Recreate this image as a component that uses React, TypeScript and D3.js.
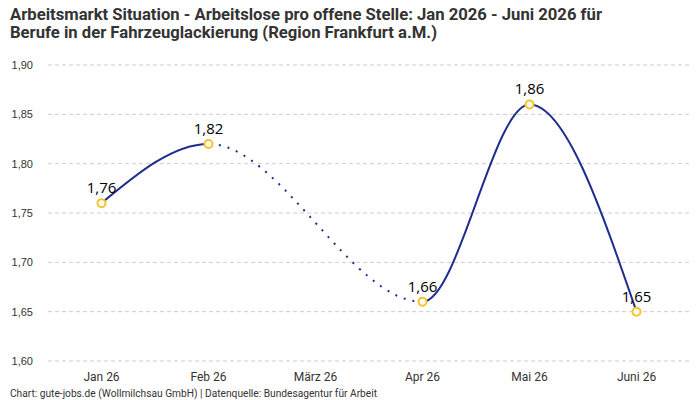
import React from 'react';
import * as d3 from 'd3';

const months = ['Jan 26', 'Feb 26', 'März 26', 'Apr 26', 'Mai 26', 'Juni 26'];
// null = keine Daten (März)
const values: (number | null)[] = [1.76, 1.82, null, 1.66, 1.86, 1.65];
const yTicks = [1.6, 1.65, 1.7, 1.75, 1.8, 1.85, 1.9];

const WIDTH = 700;
const HEIGHT = 400;
const margin = { top: 65, right: 10, bottom: 39, left: 48 };

const fmt = (v: number) => v.toFixed(2).replace('.', ',');
const condensed = "Roboto, 'Liberation Sans', sans-serif";

export default function App() {
  const xScale = d3
    .scalePoint<string>()
    .domain(months)
    .range([margin.left, WIDTH - margin.right])
    .padding(0.5);

  const yScale = d3
    .scaleLinear()
    .domain([1.6, 1.9])
    .range([HEIGHT - margin.bottom, margin.top]);

  const pts = months
    .map((m, i) => ({ m, v: values[i] }))
    .filter(d => d.v !== null) as { m: string; v: number }[];

  const line = d3
    .line<{ m: string; v: number }>()
    .x(d => xScale(d.m) || 0)
    .y(d => yScale(d.v))
    .curve(d3.curveMonotoneX);

  const path = line(pts) || '';

  // Lücke: zwischen letztem Punkt vor und erstem Punkt nach fehlendem Wert
  const gapStart = xScale('Feb 26') || 0;
  const gapEnd = xScale('Apr 26') || 0;

  const lineColor = '#1f2d8f';
  const pointColor = '#f7c325';

  return (
    <svg width={WIDTH} height={HEIGHT} style={{ position: 'absolute', left: 0, top: 0 }}>
      <defs>
        <clipPath id="solid-left">
          <rect x={0} y={0} width={gapStart} height={HEIGHT} />
        </clipPath>
        <clipPath id="solid-right">
          <rect x={gapEnd} y={0} width={WIDTH - gapEnd} height={HEIGHT} />
        </clipPath>
        <clipPath id="gap">
          <rect x={gapStart} y={0} width={gapEnd - gapStart} height={HEIGHT} />
        </clipPath>
      </defs>
      <rect width={WIDTH} height={HEIGHT} fill="#fff" />

      {/* Titel */}
      <text
        x={10}
        y={20}
        fontFamily={condensed}
        fontWeight="bold"
        fontSize={17}
        fill="#333"
        textLength={592}
        lengthAdjust="spacingAndGlyphs"
      >
        Arbeitsmarkt Situation - Arbeitslose pro offene Stelle: Jan 2026 - Juni 2026 für
      </text>
      <text
        x={10}
        y={38}
        fontFamily={condensed}
        fontWeight="bold"
        fontSize={17}
        fill="#333"
        textLength={427}
        lengthAdjust="spacingAndGlyphs"
      >
        Berufe in der Fahrzeuglackierung (Region Frankfurt a.M.)
      </text>

      {/* y-Achse + Gitter */}
      {yTicks.map(t => (
        <g key={t}>
          <line
            x1={margin.left}
            x2={WIDTH - margin.right}
            y1={yScale(t)}
            y2={yScale(t)}
            stroke="#cccccc"
            strokeDasharray="4 3"
          />
          <text
            x={33}
            y={yScale(t) + 4}
            textAnchor="end"
            fontFamily="'Liberation Sans', Arial, sans-serif"
            fontSize={11}
            fill="#333"
          >
            {fmt(t)}
          </text>
        </g>
      ))}

      {/* x-Achse */}
      {months.map(m => (
        <text
          key={m}
          x={xScale(m)}
          y={381}
          textAnchor="middle"
          fontFamily={condensed}
          fontSize={12}
          fill="#333"
        >
          {m}
        </text>
      ))}

      {/* Linie */}
      <path d={path} fill="none" stroke={lineColor} strokeWidth={2} clipPath="url(#solid-left)" />
      <path d={path} fill="none" stroke={lineColor} strokeWidth={2} clipPath="url(#solid-right)" />
      <path
        d={path}
        fill="none"
        stroke={lineColor}
        strokeWidth={2}
        strokeDasharray="2 7"
        clipPath="url(#gap)"
      />

      {/* Punkte + Beschriftung */}
      {pts.map(d => (
        <g key={d.m}>
          <circle
            cx={xScale(d.m)}
            cy={yScale(d.v)}
            r={4}
            fill="#fff"
            stroke={pointColor}
            strokeWidth={2}
          />
          <text
            x={xScale(d.m)}
            y={yScale(d.v) - 10}
            textAnchor="middle"
            fontFamily="'Open Sans', 'Noto Sans', sans-serif"
            fontSize={15}
            fill="#000"
          >
            {fmt(d.v)}
          </text>
        </g>
      ))}

      {/* Quelle */}
      <text
        x={10}
        y={397}
        fontFamily={condensed}
        fontSize={10}
        fill="#333"
        textLength={367}
        lengthAdjust="spacingAndGlyphs"
      >
        Chart: gute-jobs.de (Wollmilchsau GmbH) | Datenquelle: Bundesagentur für Arbeit
      </text>
    </svg>
  );
}
